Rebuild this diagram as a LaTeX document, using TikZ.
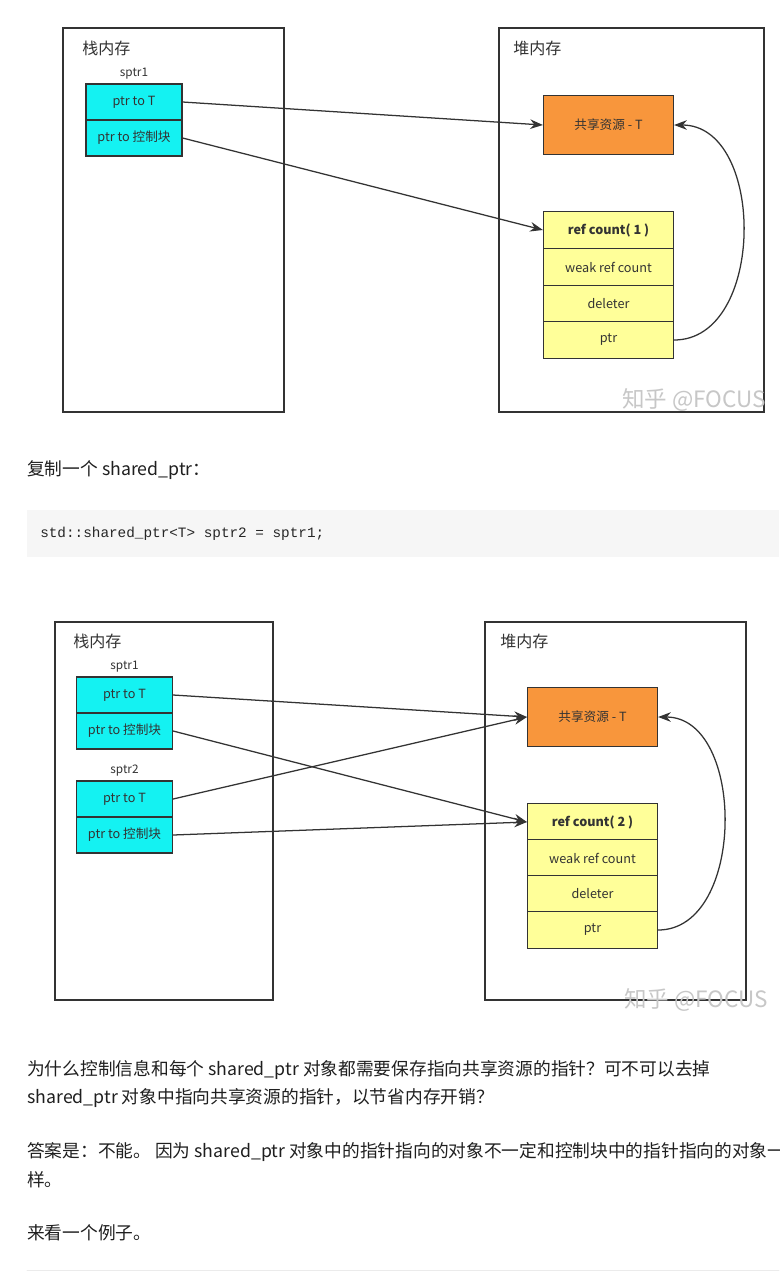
\documentclass[tikz,border=0pt]{standalone}
\usepackage{fontspec}
\setmainfont{Noto Sans CJK SC}
\setmonofont{Liberation Mono}
\usepackage{xcolor}
\usetikzlibrary{arrows.meta,positioning}
\definecolor{linegray}{HTML}{333333}
\definecolor{ptrcyan}{HTML}{14F2F2}
\definecolor{resorange}{HTML}{F8963C}
\definecolor{ctlyellow}{HTML}{FFFF99}
\definecolor{codebg}{HTML}{F6F6F6}

\begin{document}
\begin{tikzpicture}[x=0.025cm,y=-0.025cm,>={Stealth[length=3.2mm,width=2.4mm]},line cap=round,
  frame/.style={draw=linegray,line width=1pt},
  title/.style={anchor=west,inner sep=0,text=linegray,font=\fontsize{11.4pt}{13pt}\selectfont},
  cell/.style={draw=linegray,line width=0.8pt,inner sep=0,text=linegray,font=\fontsize{9pt}{10pt}\selectfont},
  ptrcell/.style={cell,fill=ptrcyan,minimum width=2.4cm,minimum height=0.9cm},
  rescell/.style={cell,fill=resorange,minimum width=3.25cm,minimum height=1.48cm},
  ctlcell/.style={cell,fill=ctlyellow,minimum width=3.25cm,minimum height=0.91cm},
  tag/.style={inner sep=0,text=linegray,font=\fontsize{8.4pt}{9pt}\selectfont},
  link/.style={->,draw=linegray,line width=0.9pt},
  wmark/.style={anchor=east,inner sep=0,text=black!22,font=\fontsize{16pt}{18pt}\selectfont},
  body/.style={anchor=west,inner sep=0,text=black!88,font=\fontsize{12.6pt}{15pt}\selectfont}]
\fill[white] (0,0) rectangle (779,1272);
\useasboundingbox (0,0) rectangle (779,1272);

% first picture: one shared_ptr
\draw[frame] (63,28) rectangle (284,412);
\draw[frame] (499,28) rectangle (764,412);
\node[title] (stackA) at (82,48) {栈内存};
\node[title] (heapA) at (513,48) {堆内存};
\node[ptrcell] (aT) at (134,102) {ptr to T};
\node[ptrcell] (aC) at (134,138) {ptr to 控制块};
\node[tag,above=3pt of aT] (aName) {sptr1};
\node[rescell] (resA) at (608.5,125) {共享资源 - T};
\node[ctlcell] (rcA) at (608.5,230) {\textbf{ref count( 1 )}};
\node[ctlcell] (weakA) at (608.5,267) {weak ref count};
\node[ctlcell] (delA) at (608.5,304) {deleter};
\node[ctlcell] (ptrA) at (608.5,340) {ptr};
\draw[link] (aT.east) -- (resA.west);
\draw[link] (aC.east) -- (rcA.west);
\draw[link] (ptrA.east) .. controls +(92,0) and +(92,0) .. (resA.east);
\node[wmark] (wmA) at (766,400) {知乎 @FOCUS};

\node[body] (copyTxt) at (27,470) {复制一个 shared\_ptr：};
\fill[codebg] (27,510) rectangle (779,557);
\node[anchor=west,inner sep=0,text=black!85,font=\ttfamily\fontsize{10.2pt}{12pt}\selectfont] (code) at (40,534) {std::shared\_ptr<T> sptr2 = sptr1;};

% second picture: sptr1 and sptr2 share the block
\draw[frame] (55,622) rectangle (273,1000);
\draw[frame] (485,622) rectangle (746,1000);
\node[title] (stackB) at (73,641) {栈内存};
\node[title] (heapB) at (500,641) {堆内存};
\node[ptrcell] (bT) at (124.5,695) {ptr to T};
\node[ptrcell] (bC) at (124.5,731) {ptr to 控制块};
\node[tag,above=3pt of bT] (bName) {sptr1};
\node[ptrcell] (cT) at (124.5,799) {ptr to T};
\node[ptrcell] (cC) at (124.5,835) {ptr to 控制块};
\node[tag,above=3pt of cT] (cName) {sptr2};
\node[rescell] (resB) at (592.5,717) {共享资源 - T};
\node[ctlcell] (rcB) at (592.5,822) {\textbf{ref count( 2 )}};
\node[ctlcell] (weakB) at (592.5,858) {weak ref count};
\node[ctlcell] (delB) at (592.5,894) {deleter};
\node[ctlcell] (ptrB) at (592.5,930) {ptr};
\draw[link] (bT.east) -- (resB.west);
\draw[link] (bC.east) -- (rcB.west);
\draw[link] (cT.east) -- (resB.west);
\draw[link] (cC.east) -- (rcB.west);
\draw[link] (ptrB.east) .. controls +(88,0) and +(88,0) .. (resB.east);
\node[wmark] (wmB) at (768,1000) {知乎 @FOCUS};

\node[body] (askA) at (27,1070) {为什么控制信息和每个 shared\_ptr 对象都需要保存指向共享资源的指针？可不可以去掉};
\node[body] (askB) at (27,1098) {shared\_ptr 对象中指向共享资源的指针，以节省内存开销？};
\node[body] (ansA) at (27,1152) {答案是：不能。 因为 shared\_ptr 对象中的指针指向的对象不一定和控制块中的指针指向的对象一};
\node[body] (ansB) at (27,1180) {样。};
\node[body] (seeTxt) at (27,1233) {来看一个例子。};
\draw[black!8] (27,1270) -- (779,1270);
\end{tikzpicture}
\end{document}
